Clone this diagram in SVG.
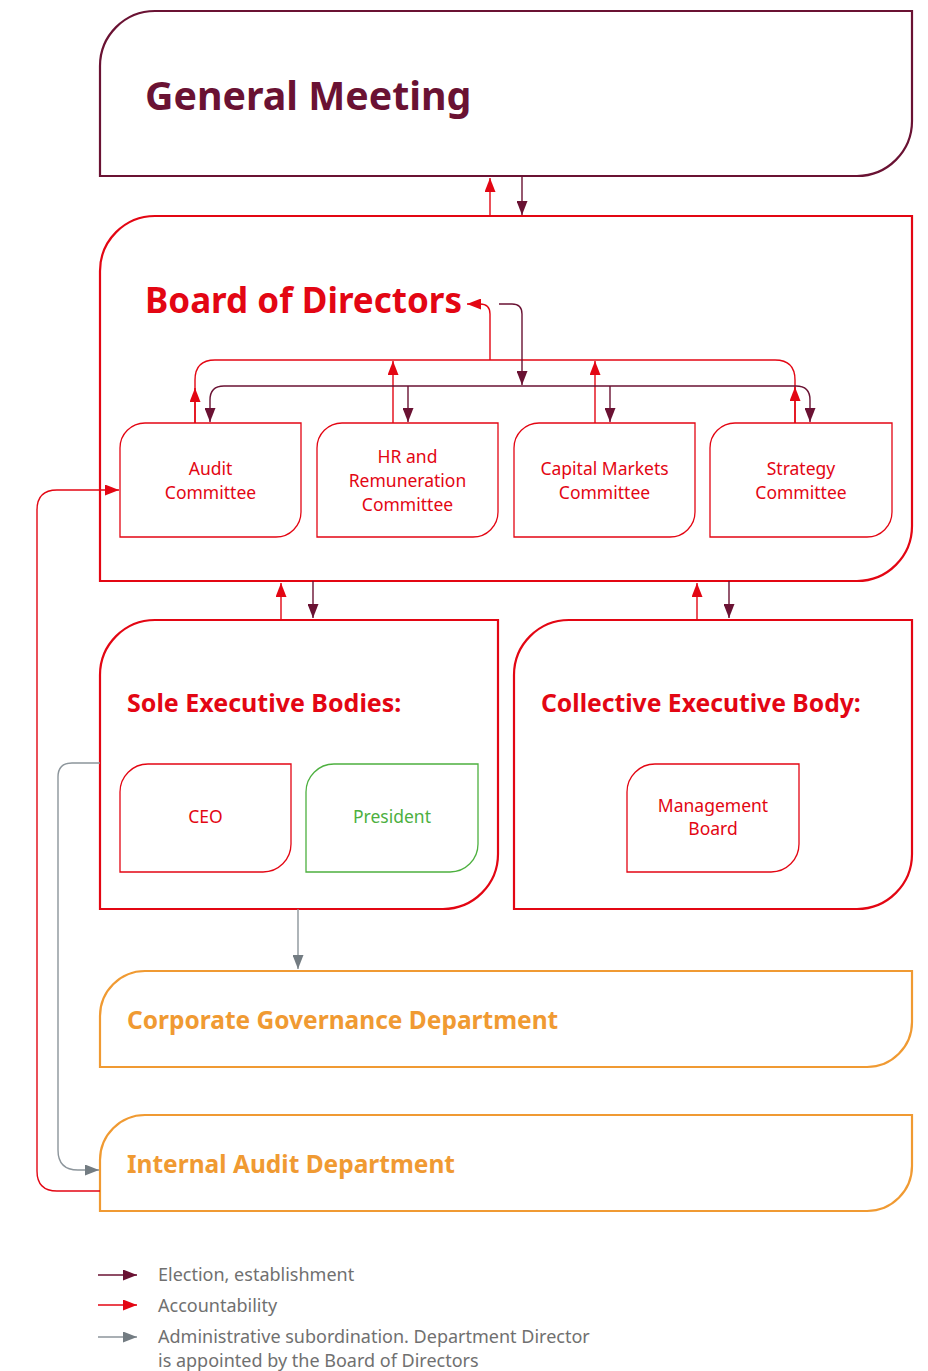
<svg xmlns="http://www.w3.org/2000/svg" width="928" height="1371" viewBox="0 0 928 1371">
<defs>
<style>
.box{fill:#fff;stroke-width:2.2}
.sm{fill:#fff;stroke-width:1.3}
.mar{stroke:#6A1233}
.red{stroke:#E30613}
.org{stroke:#F09A32}
.grn{stroke:#4DB03F}
.gry{stroke:#8C959B}
.c{fill:none;stroke-width:1.4}
.title{font-family:"Noto Sans","Open Sans",sans-serif;font-weight:bold}
.t{font-family:"Noto Sans","Open Sans",sans-serif;font-size:17.5px;text-anchor:middle;fill:#E30613}
.leg{font-family:"Noto Sans","Open Sans",sans-serif;font-size:18px;fill:#707070}
</style>
<marker id="am" viewBox="0 0 14 11" refX="14" refY="5.5" markerWidth="14" markerHeight="11" markerUnits="userSpaceOnUse" orient="auto"><path d="M0,0 L14,5.5 L0,11 Z" fill="#6A1233"/></marker>
<marker id="ar" viewBox="0 0 14 11" refX="14" refY="5.5" markerWidth="14" markerHeight="11" markerUnits="userSpaceOnUse" orient="auto"><path d="M0,0 L14,5.5 L0,11 Z" fill="#E30613"/></marker>
<marker id="ag" viewBox="0 0 14 11" refX="14" refY="5.5" markerWidth="14" markerHeight="11" markerUnits="userSpaceOnUse" orient="auto"><path d="M0,0 L14,5.5 L0,11 Z" fill="#737C82"/></marker>
</defs>

<g id="general-meeting">
<path class="box mar" d="M100,176 V66 A55,55 0 0 1 155,11 H912 V121 A55,55 0 0 1 857,176 Z"/>
<text class="title" x="145" y="110" font-size="39.3" fill="#6A1233">General Meeting</text>
</g>

<g id="board-of-directors">
<path class="box red" d="M100,581 V271 A55,55 0 0 1 155,216 H912 V526 A55,55 0 0 1 857,581 Z"/>
<text class="title" x="145" y="313" font-size="35" fill="#E30613">Board of Directors</text>
</g>

<g id="audit-committee">
<path class="sm red" d="M120,537 V448 A25,25 0 0 1 145,423 H301 V512 A25,25 0 0 1 276,537 Z"/>
<text class="t" x="210.5" y="475">Audit</text>
<text class="t" x="210.5" y="499">Committee</text>
</g>
<g id="hr-committee">
<path class="sm red" d="M317,537 V448 A25,25 0 0 1 342,423 H498 V512 A25,25 0 0 1 473,537 Z"/>
<text class="t" x="407.5" y="463">HR and</text>
<text class="t" x="407.5" y="487">Remuneration</text>
<text class="t" x="407.5" y="511">Committee</text>
</g>
<g id="capital-markets-committee">
<path class="sm red" d="M514,537 V448 A25,25 0 0 1 539,423 H695 V512 A25,25 0 0 1 670,537 Z"/>
<text class="t" x="604.5" y="475">Capital Markets</text>
<text class="t" x="604.5" y="499">Committee</text>
</g>
<g id="strategy-committee">
<path class="sm red" d="M710,537 V448 A25,25 0 0 1 735,423 H892 V512 A25,25 0 0 1 867,537 Z"/>
<text class="t" x="801" y="475">Strategy</text>
<text class="t" x="801" y="499">Committee</text>
</g>

<g id="sole-executive-bodies">
<path class="box red" d="M100,909 V675 A55,55 0 0 1 155,620 H498 V854 A55,55 0 0 1 443,909 Z"/>
<text class="title" x="127" y="712" font-size="25" fill="#E30613">Sole Executive Bodies:</text>
</g>
<g id="ceo">
<path class="sm red" d="M120,872 V792 A28,28 0 0 1 148,764 H291 V844 A28,28 0 0 1 263,872 Z"/>
<text class="t" x="205.5" y="823">CEO</text>
</g>
<g id="president">
<path class="sm grn" d="M306,872 V792 A28,28 0 0 1 334,764 H478 V844 A28,28 0 0 1 450,872 Z"/>
<text class="t" x="392" y="823" style="fill:#4DB03F">President</text>
</g>

<g id="collective-executive-body">
<path class="box red" d="M514,909 V675 A55,55 0 0 1 569,620 H912 V854 A55,55 0 0 1 857,909 Z"/>
<text class="title" x="541" y="712" font-size="24.7" fill="#E30613">Collective Executive Body:</text>
</g>
<g id="management-board">
<path class="sm red" d="M627,872 V792 A28,28 0 0 1 655,764 H799 V844 A28,28 0 0 1 771,872 Z"/>
<text class="t" x="713" y="812">Management</text>
<text class="t" x="713" y="835">Board</text>
</g>

<g id="corporate-governance-department">
<path class="box org" d="M100,1067 V1016 A45,45 0 0 1 145,971 H912 V1022 A45,45 0 0 1 867,1067 Z"/>
<text class="title" x="127" y="1029" font-size="24.5" fill="#F09A32">Corporate Governance Department</text>
</g>
<g id="internal-audit-department">
<path class="box org" d="M100,1211 V1160 A45,45 0 0 1 145,1115 H912 V1166 A45,45 0 0 1 867,1211 Z"/>
<text class="title" x="127" y="1173" font-size="24.5" fill="#F09A32">Internal Audit Department</text>
</g>

<g id="connectors">
<path class="c mar" d="M522,176 V215" marker-end="url(#am)"/>
<path class="c red" d="M490,216 V178" marker-end="url(#ar)"/>

<path class="c red" d="M195,423 V380 Q195,360 215,360 H775 Q795,360 795,380 V423"/>
<path class="c red" d="M195,423 V388" marker-end="url(#ar)"/>
<path class="c red" d="M795,423 V387" marker-end="url(#ar)"/>
<path class="c red" d="M490,360 V314 Q490,304 480,304 H467" marker-end="url(#ar)"/>
<path class="c red" d="M393,423 V361" marker-end="url(#ar)"/>
<path class="c red" d="M595,423 V361" marker-end="url(#ar)"/>

<path class="c mar" d="M499,304 H512 Q522,304 522,314 V385" marker-end="url(#am)"/>
<path class="c mar" d="M522,386 H224 Q210,386 210,400 V422" marker-end="url(#am)"/>
<path class="c mar" d="M522,386 H796 Q810,386 810,400 V422" marker-end="url(#am)"/>
<path class="c mar" d="M408,386 V422" marker-end="url(#am)"/>
<path class="c mar" d="M610,386 V422" marker-end="url(#am)"/>

<path class="c red" d="M281,620 V583" marker-end="url(#ar)"/>
<path class="c mar" d="M313,581 V618" marker-end="url(#am)"/>
<path class="c red" d="M697,620 V583" marker-end="url(#ar)"/>
<path class="c mar" d="M729,581 V618" marker-end="url(#am)"/>

<path class="c red" d="M100,1191 H57 Q37,1191 37,1171 V510 Q37,490 57,490 H119" marker-end="url(#ar)"/>
<path class="c gry" d="M100,763 H72 Q58,763 58,777 V1150 Q58,1170 78,1170 H99" marker-end="url(#ag)"/>
<path class="c gry" d="M298,909 V969" marker-end="url(#ag)"/>
</g>

<g id="legend">
<path class="c mar" d="M98,1275 H137" marker-end="url(#am)"/>
<path class="c red" d="M98,1305 H137" marker-end="url(#ar)"/>
<path class="c gry" d="M98,1337 H137" marker-end="url(#ag)"/>
<text class="leg" x="158" y="1281">Election, establishment</text>
<text class="leg" x="158" y="1312">Accountability</text>
<text class="leg" x="158" y="1343">Administrative subordination. Department Director</text>
<text class="leg" x="158" y="1367">is appointed by the Board of Directors</text>
</g>
</svg>
